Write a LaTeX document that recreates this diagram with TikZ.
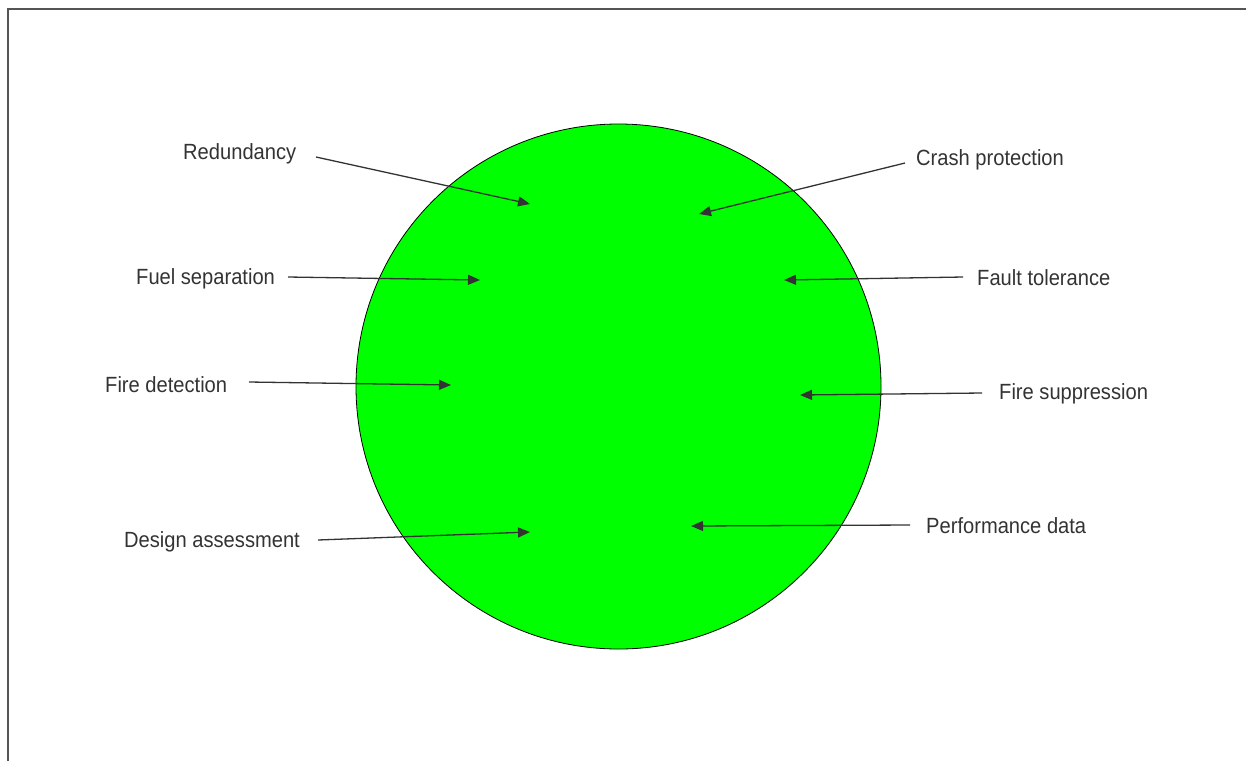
\documentclass[tikz,border=0pt]{standalone}
\usepackage{fontspec}
\setmainfont{Liberation Sans}[FakeStretch=0.915]
\usetikzlibrary{arrows.meta}
\definecolor{txt}{HTML}{333333}
\definecolor{ln}{HTML}{333333}
\definecolor{frame}{HTML}{555555}
\definecolor{ballgreen}{HTML}{00FF00}
\tikzset{
  lbl/.style={anchor=base west, inner sep=0pt, text=txt, font=\fontsize{22}{26}\selectfont},
  pointer/.style={draw=ln, line width=1.3pt, -{Triangle[length=12pt,width=10pt]}},
}
\begin{document}
\begin{tikzpicture}[x=1pt,y=-1pt]
\useasboundingbox (0,0) rectangle (1246,761);
\draw[frame, line width=2pt] (8,761) -- (8,9) -- (1246,9);
\node[circle, draw=black, line width=0.8pt, fill=ballgreen, minimum size=525pt, inner sep=0pt] (ball) at (618.5,386.5) {};

\node[lbl] (red) at (183,159) {Redundancy};
\node[lbl] (crash) at (916,165) {Crash protection};
\node[lbl] (fuel) at (136,284) {Fuel separation};
\node[lbl] (fault) at (977,285) {Fault tolerance};
\node[lbl] (fdet) at (105,392) {Fire detection};
\node[lbl] (fsup) at (999,399) {Fire suppression};
\node[lbl] (des) at (124,547) {Design assessment};
\node[lbl] (perf) at (926,533) {Performance data};

\coordinate (redS) at (316,157);  \coordinate (redE) at (530,204);
\coordinate (crashS) at (905,163); \coordinate (crashE) at (699,214);
\coordinate (fuelS) at (288,277); \coordinate (fuelE) at (480,280);
\coordinate (faultS) at (963,277); \coordinate (faultE) at (784,280);
\coordinate (fdetS) at (249,382); \coordinate (fdetE) at (451,385);
\coordinate (fsupS) at (982,393); \coordinate (fsupE) at (800,395);
\coordinate (desS) at (318,540); \coordinate (desE) at (530,532);
\coordinate (perfS) at (910,525); \coordinate (perfE) at (691,526);

\draw[pointer] (redS) -- (redE);
\draw[pointer] (crashS) -- (crashE);
\draw[pointer] (fuelS) -- (fuelE);
\draw[pointer] (faultS) -- (faultE);
\draw[pointer] (fdetS) -- (fdetE);
\draw[pointer] (fsupS) -- (fsupE);
\draw[pointer] (desS) -- (desE);
\draw[pointer] (perfS) -- (perfE);
\end{tikzpicture}
\end{document}
